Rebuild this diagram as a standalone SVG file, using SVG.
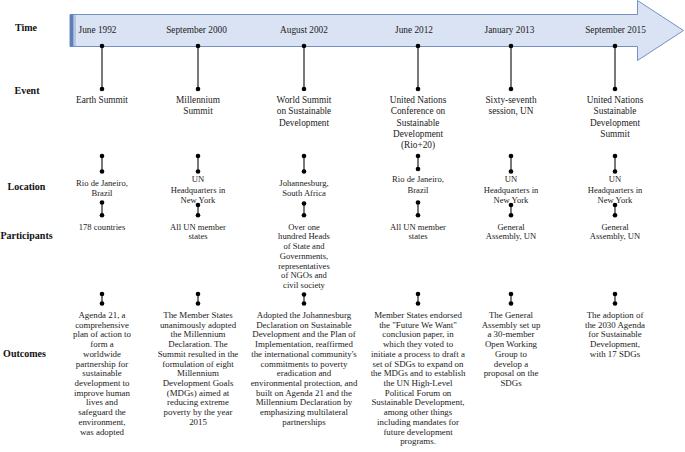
<svg xmlns="http://www.w3.org/2000/svg" width="685" height="452" viewBox="0 0 685 452">
<style>
.lbl{font-family:"Liberation Serif","Times New Roman",serif;font-weight:bold;font-size:10px;fill:#111;text-anchor:middle}
.t{font-family:"Liberation Serif","Times New Roman",serif;font-size:9.3px;fill:#222;text-anchor:middle}
.s{font-family:"Liberation Serif","Times New Roman",serif;font-size:8.6px;fill:#222;text-anchor:middle}
.o{font-family:"Liberation Serif","Times New Roman",serif;font-size:8.9px;fill:#222;text-anchor:middle}
.c{stroke:#6a6a6a;stroke-width:1.8;fill:none}
.d{fill:#000}
</style>
<rect width="685" height="452" fill="#fff"/>
<g id="timeline-arrow">
<path d="M70,14.5 H637.5 V0.5 L683.5,30.5 L637.5,60.5 V46.5 H70 Z" fill="#dae3f3" stroke="#7391c3" stroke-width="1"/>
<rect x="70" y="14.5" width="3.5" height="32" fill="#5c7fb6"/>
<line x1="75" y1="15" x2="75" y2="46" stroke="#8fa9d3" stroke-width="1"/>
</g>
<g id="row-labels">
<text class="lbl" x="26" y="30.5">Time</text>
<text class="lbl" x="27" y="93.5">Event</text>
<text class="lbl" x="26.5" y="189.5">Location</text>
<text class="lbl" x="26.5" y="238.5">Participants</text>
<text class="lbl" x="24.5" y="356.5">Outcomes</text>
</g>
<g id="connectors">
<g id="time-event">
<line class="c" x1="102" y1="46" x2="102" y2="89"/><circle class="d" cx="102" cy="46" r="2.3"/><circle class="d" cx="102" cy="89" r="2.3"/>
<line class="c" x1="198" y1="46" x2="198" y2="89"/><circle class="d" cx="198" cy="46" r="2.3"/><circle class="d" cx="198" cy="89" r="2.3"/>
<line class="c" x1="304" y1="46" x2="304" y2="89"/><circle class="d" cx="304" cy="46" r="2.3"/><circle class="d" cx="304" cy="89" r="2.3"/>
<line class="c" x1="418" y1="46" x2="418" y2="89"/><circle class="d" cx="418" cy="46" r="2.3"/><circle class="d" cx="418" cy="89" r="2.3"/>
<line class="c" x1="511" y1="46" x2="511" y2="89"/><circle class="d" cx="511" cy="46" r="2.3"/><circle class="d" cx="511" cy="89" r="2.3"/>
<line class="c" x1="615" y1="46" x2="615" y2="89"/><circle class="d" cx="615" cy="46" r="2.3"/><circle class="d" cx="615" cy="89" r="2.3"/>
</g>
<g id="event-location">
<line class="c" x1="102" y1="156" x2="102" y2="171.5"/><circle class="d" cx="102" cy="156" r="2.3"/><circle class="d" cx="102" cy="171.5" r="2.3"/>
<line class="c" x1="198" y1="156" x2="198" y2="171.5"/><circle class="d" cx="198" cy="156" r="2.3"/><circle class="d" cx="198" cy="171.5" r="2.3"/>
<line class="c" x1="304" y1="156" x2="304" y2="171.5"/><circle class="d" cx="304" cy="156" r="2.3"/><circle class="d" cx="304" cy="171.5" r="2.3"/>
<line class="c" x1="418" y1="156" x2="418" y2="169"/><circle class="d" cx="418" cy="156" r="2.3"/><circle class="d" cx="418" cy="169" r="2.3"/>
<line class="c" x1="511" y1="156" x2="511" y2="171.5"/><circle class="d" cx="511" cy="156" r="2.3"/><circle class="d" cx="511" cy="171.5" r="2.3"/>
<line class="c" x1="615" y1="156" x2="615" y2="171.5"/><circle class="d" cx="615" cy="156" r="2.3"/><circle class="d" cx="615" cy="171.5" r="2.3"/>
</g>
<g id="location-participants">
<line class="c" x1="102" y1="202.5" x2="102" y2="215.3"/><circle class="d" cx="102" cy="202.5" r="2.3"/><circle class="d" cx="102" cy="215.3" r="2.3"/>
<line class="c" x1="198" y1="205" x2="198" y2="215.3"/><circle class="d" cx="198" cy="205" r="2.3"/><circle class="d" cx="198" cy="215.3" r="2.3"/>
<line class="c" x1="304" y1="203.5" x2="304" y2="215.3"/><circle class="d" cx="304" cy="203.5" r="2.3"/><circle class="d" cx="304" cy="215.3" r="2.3"/>
<line class="c" x1="418" y1="202.5" x2="418" y2="215.3"/><circle class="d" cx="418" cy="202.5" r="2.3"/><circle class="d" cx="418" cy="215.3" r="2.3"/>
<line class="c" x1="511" y1="205" x2="511" y2="215.3"/><circle class="d" cx="511" cy="205" r="2.3"/><circle class="d" cx="511" cy="215.3" r="2.3"/>
<line class="c" x1="615" y1="205" x2="615" y2="215.3"/><circle class="d" cx="615" cy="205" r="2.3"/><circle class="d" cx="615" cy="215.3" r="2.3"/>
</g>
<g id="participants-outcomes">
<line class="c" x1="102" y1="294" x2="102" y2="303.5"/><circle class="d" cx="102" cy="294" r="2.3"/><circle class="d" cx="102" cy="303.5" r="2.3"/>
<line class="c" x1="198" y1="294" x2="198" y2="303.5"/><circle class="d" cx="198" cy="294" r="2.3"/><circle class="d" cx="198" cy="303.5" r="2.3"/>
<line class="c" x1="304" y1="294.5" x2="304" y2="303.5"/><circle class="d" cx="304" cy="294.5" r="2.3"/><circle class="d" cx="304" cy="303.5" r="2.3"/>
<line class="c" x1="418" y1="294" x2="418" y2="303.5"/><circle class="d" cx="418" cy="294" r="2.3"/><circle class="d" cx="418" cy="303.5" r="2.3"/>
<line class="c" x1="511" y1="294" x2="511" y2="303.5"/><circle class="d" cx="511" cy="294" r="2.3"/><circle class="d" cx="511" cy="303.5" r="2.3"/>
<line class="c" x1="615" y1="294" x2="615" y2="303.5"/><circle class="d" cx="615" cy="294" r="2.3"/><circle class="d" cx="615" cy="303.5" r="2.3"/>
</g>
</g>
<g id="col-1992">
<text class="t" x="97.5" y="33.3">June 1992</text>
<text class="t" x="102" y="103.3">Earth Summit</text>
<text class="s" x="102" y="185.7"><tspan x="102">Rio de Janeiro,</tspan><tspan x="102" dy="10.3">Brazil</tspan></text>
<text class="s" x="102" y="229.7">178 countries</text>
<text class="o" x="102" y="318"><tspan x="102">Agenda 21, a</tspan><tspan x="102" dy="9.72">comprehensive</tspan><tspan x="102" dy="9.72">plan of action to</tspan><tspan x="102" dy="9.72">form a</tspan><tspan x="102" dy="9.72">worldwide</tspan><tspan x="102" dy="9.72">partnership for</tspan><tspan x="102" dy="9.72">sustainable</tspan><tspan x="102" dy="9.72">development to</tspan><tspan x="102" dy="9.72">improve human</tspan><tspan x="102" dy="9.72">lives and</tspan><tspan x="102" dy="9.72">safeguard the</tspan><tspan x="102" dy="9.72">environment,</tspan><tspan x="102" dy="9.72">was adopted</tspan></text>
</g>
<g id="col-2000">
<text class="t" x="196.5" y="33.3">September 2000</text>
<text class="t" x="198" y="103.3"><tspan x="198">Millennium</tspan><tspan x="198" dy="11.1">Summit</tspan></text>
<text class="s" x="198" y="182.3"><tspan x="198">UN</tspan><tspan x="198" dy="10.3">Headquarters in</tspan><tspan x="198" dy="10.3">New York</tspan></text>
<text class="s" x="198" y="229.7"><tspan x="198">All UN member</tspan><tspan x="198" dy="9.72">states</tspan></text>
<text class="o" x="198" y="318"><tspan x="198">The Member States</tspan><tspan x="198" dy="9.72">unanimously adopted</tspan><tspan x="198" dy="9.72">the Millennium</tspan><tspan x="198" dy="9.72">Declaration. The</tspan><tspan x="198" dy="9.72">Summit resulted in the</tspan><tspan x="198" dy="9.72">formulation of eight</tspan><tspan x="198" dy="9.72">Millennium</tspan><tspan x="198" dy="9.72">Development Goals</tspan><tspan x="198" dy="9.72">(MDGs) aimed at</tspan><tspan x="198" dy="9.72">reducing extreme</tspan><tspan x="198" dy="9.72">poverty by the year</tspan><tspan x="198" dy="9.72">2015</tspan></text>
</g>
<g id="col-2002">
<text class="t" x="304" y="33.3">August 2002</text>
<text class="t" x="304" y="103.3"><tspan x="304">World Summit</tspan><tspan x="304" dy="11.1">on Sustainable</tspan><tspan x="304" dy="11.1">Development</tspan></text>
<text class="s" x="304" y="185.7"><tspan x="304">Johannesburg,</tspan><tspan x="304" dy="10.3">South Africa</tspan></text>
<text class="s" x="304" y="229.7"><tspan x="304">Over one</tspan><tspan x="304" dy="9.72">hundred Heads</tspan><tspan x="304" dy="9.72">of State and</tspan><tspan x="304" dy="9.72">Governments,</tspan><tspan x="304" dy="9.72">representatives</tspan><tspan x="304" dy="9.72">of NGOs and</tspan><tspan x="304" dy="9.72">civil society</tspan></text>
<text class="o" x="304" y="318"><tspan x="304">Adopted the Johannesburg</tspan><tspan x="304" dy="9.72">Declaration on Sustainable</tspan><tspan x="304" dy="9.72">Development and the Plan of</tspan><tspan x="304" dy="9.72">Implementation, reaffirmed</tspan><tspan x="304" dy="9.72">the international community's</tspan><tspan x="304" dy="9.72">commitments to poverty</tspan><tspan x="304" dy="9.72">eradication and</tspan><tspan x="304" dy="9.72">environmental protection, and</tspan><tspan x="304" dy="9.72">built on Agenda 21 and the</tspan><tspan x="304" dy="9.72">Millennium Declaration by</tspan><tspan x="304" dy="9.72">emphasizing multilateral</tspan><tspan x="304" dy="9.72">partnerships</tspan></text>
</g>
<g id="col-2012">
<text class="t" x="414" y="33.3">June 2012</text>
<text class="t" x="418" y="103.3"><tspan x="418">United Nations</tspan><tspan x="418" dy="11.1">Conference on</tspan><tspan x="418" dy="11.1">Sustainable</tspan><tspan x="418" dy="11.1">Development</tspan><tspan x="418" dy="11.1">(Rio+20)</tspan></text>
<text class="s" x="418" y="182.3"><tspan x="418">Rio de Janeiro,</tspan><tspan x="418" dy="10.6">Brazil</tspan></text>
<text class="s" x="418" y="229.7"><tspan x="418">All UN member</tspan><tspan x="418" dy="9.72">states</tspan></text>
<text class="o" x="418" y="318"><tspan x="418">Member States endorsed</tspan><tspan x="418" dy="9.72">the "Future We Want"</tspan><tspan x="418" dy="9.72">conclusion paper, in</tspan><tspan x="418" dy="9.72">which they voted to</tspan><tspan x="418" dy="9.72">initiate a process to draft a</tspan><tspan x="418" dy="9.72">set of SDGs to expand on</tspan><tspan x="418" dy="9.72">the MDGs and to establish</tspan><tspan x="418" dy="9.72">the UN High-Level</tspan><tspan x="418" dy="9.72">Political Forum on</tspan><tspan x="418" dy="9.72">Sustainable Development,</tspan><tspan x="418" dy="9.72">among other things</tspan><tspan x="418" dy="9.72">including mandates for</tspan><tspan x="418" dy="9.72">future development</tspan><tspan x="418" dy="9.72">programs.</tspan></text>
</g>
<g id="col-2013">
<text class="t" x="509.5" y="33.3">January 2013</text>
<text class="t" x="511" y="103.3"><tspan x="511">Sixty-seventh</tspan><tspan x="511" dy="11.1">session, UN</tspan></text>
<text class="s" x="511" y="182.3"><tspan x="511">UN</tspan><tspan x="511" dy="10.3">Headquarters in</tspan><tspan x="511" dy="10.3">New York</tspan></text>
<text class="s" x="511" y="229.7"><tspan x="511">General</tspan><tspan x="511" dy="9.72">Assembly, UN</tspan></text>
<text class="o" x="511" y="318"><tspan x="511">The General</tspan><tspan x="511" dy="9.72">Assembly set up</tspan><tspan x="511" dy="9.72">a 30-member</tspan><tspan x="511" dy="9.72">Open Working</tspan><tspan x="511" dy="9.72">Group to</tspan><tspan x="511" dy="9.72">develop a</tspan><tspan x="511" dy="9.72">proposal on the</tspan><tspan x="511" dy="9.72">SDGs</tspan></text>
</g>
<g id="col-2015">
<text class="t" x="615.5" y="33.3">September 2015</text>
<text class="t" x="615" y="103.3"><tspan x="615">United Nations</tspan><tspan x="615" dy="11.1">Sustainable</tspan><tspan x="615" dy="11.1">Development</tspan><tspan x="615" dy="11.1">Summit</tspan></text>
<text class="s" x="615" y="182.3"><tspan x="615">UN</tspan><tspan x="615" dy="10.3">Headquarters in</tspan><tspan x="615" dy="10.3">New York</tspan></text>
<text class="s" x="615" y="229.7"><tspan x="615">General</tspan><tspan x="615" dy="9.72">Assembly, UN</tspan></text>
<text class="o" x="615" y="318"><tspan x="615">The adoption of</tspan><tspan x="615" dy="9.72">the 2030 Agenda</tspan><tspan x="615" dy="9.72">for Sustainable</tspan><tspan x="615" dy="9.72">Development,</tspan><tspan x="615" dy="9.72">with 17 SDGs</tspan></text>
</g>
</svg>
